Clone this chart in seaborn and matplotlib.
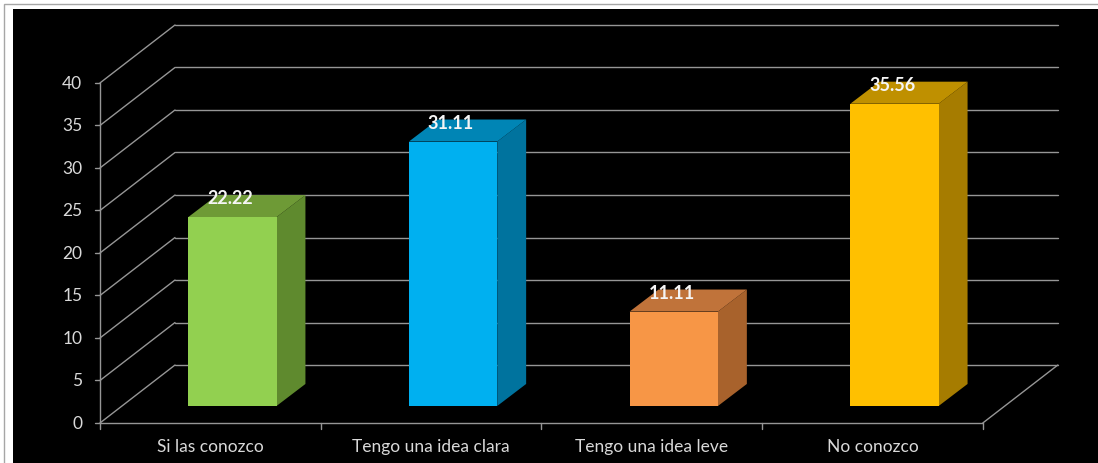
import matplotlib
matplotlib.use("Agg")
import matplotlib.pyplot as plt
from matplotlib.patches import Polygon, Rectangle
import seaborn as sns
import pandas as pd

categories = ["Si las conozco", "Tengo una idea clara", "Tengo una idea leve", "No conozco"]
values = [22.22, 31.11, 11.11, 35.56]
value_labels = ["22.22", "31.11", "11.11", "35.56"]
y_ticks = [0, 5, 10, 15, 20, 25, 30, 35, 40]

front_colors = ["#92D050", "#00B0F0", "#F79646", "#FFC000"]
side_colors = ["#5F8A2E", "#00739E", "#A8622C", "#A67C00"]
top_colors = ["#6E9A36", "#0085B5", "#C0733A", "#BF9000"]

sns.set_theme(style="white")
plt.rcParams["font.family"] = ["Lato", "DejaVu Sans"]

fig = plt.figure(figsize=(10.98, 4.64), dpi=100, facecolor="white")
W, H = 1098, 464
# thin frame around the chart area
fig.add_artist(Rectangle((3.5 / W, -0.1), 1.2, 1 - 4.5 / H + 0.1, transform=fig.transFigure,
                         fill=False, edgecolor="#a6a6a6", linewidth=1.0))
ax = fig.add_axes([13 / W, 0, (W - 13) / W, (H - 10) / H])
ax.set_facecolor("black")

# pseudo-3D geometry (category units on x, value units on y)
wall_dx, wall_dy = 0.34, 6.82     # depth of the back wall
bar_fx, bar_fy = 0.10, 2.0        # front face of each bar, set back from the axis plane
bar_sx, bar_sy = 0.131, 2.59      # bar depth
bar_w = 0.4
x_left, x_right = -0.5, len(categories) - 0.5
grid_col = "#969696"

# back wall grid lines and their diagonal links to the value axis
for v in y_ticks:
    ax.plot([x_left + wall_dx, x_right + wall_dx], [v + wall_dy, v + wall_dy],
            color=grid_col, lw=1.0, zorder=1)
    ax.plot([x_left, x_left + wall_dx], [v, v + wall_dy], color=grid_col, lw=1.0, zorder=1)
# floor: right edge diagonal and front edge
ax.plot([x_right, x_right + wall_dx], [0, wall_dy], color=grid_col, lw=1.0, zorder=1)
ax.plot([x_left, x_right], [0, 0], color=grid_col, lw=1.0, zorder=2)
# value axis
ax.plot([x_left, x_left], [0, 40], color=grid_col, lw=1.0, zorder=2)
tick_len_x = 5 / 220.7
tick_len_y = 6 / 8.5
for v in y_ticks:
    ax.plot([x_left - tick_len_x, x_left], [v, v], color=grid_col, lw=1.0, zorder=2)
    ax.text(x_left - 0.08, v, str(v), ha="right", va="center", color="#d9d9d9", fontsize=12.5)
for i in range(len(categories) + 1):
    xb = x_left + i
    ax.plot([xb, xb], [0, -tick_len_y], color=grid_col, lw=1.0, zorder=2)
for i, c in enumerate(categories):
    ax.text(i, -2.75, c, ha="center", va="center", color="#d9d9d9", fontsize=12.5)

# front faces of the bars
df = pd.DataFrame({"categoria": categories, "porcentaje": values})
sns.barplot(data=df, x="categoria", y="porcentaje", hue="categoria", palette=front_colors,
            width=bar_w, legend=False, ax=ax, zorder=4, linewidth=0, saturation=1)
for p in ax.patches:
    p.set_x(p.get_x() + bar_fx)
    p.set_y(bar_fy)

# side and top faces
for i, v in enumerate(values):
    x0 = i - bar_w / 2 + bar_fx
    x1 = i + bar_w / 2 + bar_fx
    y0 = bar_fy
    y1 = bar_fy + v
    side = Polygon([(x1, y0), (x1 + bar_sx, y0 + bar_sy), (x1 + bar_sx, y1 + bar_sy), (x1, y1)],
                   closed=True, facecolor=side_colors[i], edgecolor="none", zorder=3)
    top = Polygon([(x0, y1), (x1, y1), (x1 + bar_sx, y1 + bar_sy), (x0 + bar_sx, y1 + bar_sy)],
                  closed=True, facecolor=top_colors[i], edgecolor="none", zorder=3)
    ax.add_patch(side)
    ax.add_patch(top)
    ax.text(i + bar_fx - 0.01, v + 4.25, value_labels[i], ha="center", va="center",
            color="#f5f5f5", fontsize=13, fontweight="bold", zorder=5)

ax.set_xlim(-0.894, 4.022)
ax.set_ylim(-4.706, 48.7)
ax.set_xlabel("")
ax.set_ylabel("")
ax.set_xticks([])
ax.set_yticks([])
for s in ax.spines.values():
    s.set_visible(False)

fig.savefig("out.png", dpi=100, facecolor="white")
